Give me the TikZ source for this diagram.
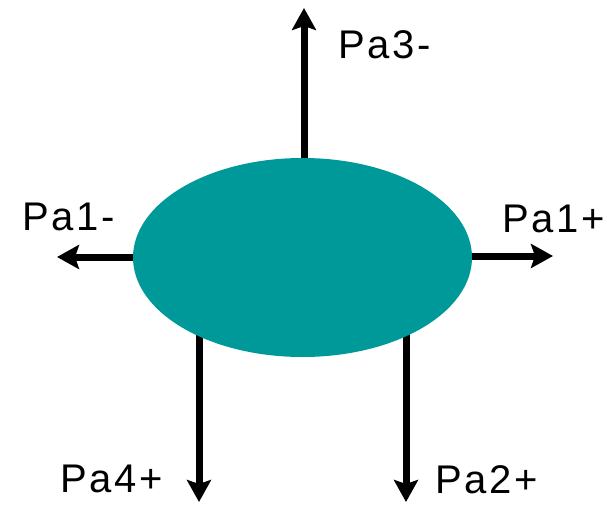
\documentclass[tikz,border=0pt]{standalone}
\usepackage{fontspec}
\setmainfont{Liberation Sans}[LetterSpace=7]
\usetikzlibrary{arrows.meta,shapes.geometric}
\definecolor{teal1}{RGB}{0,153,153}
\begin{document}
\begin{tikzpicture}[x=1pt,y=-1pt,
  arr/.style={line width=7pt,-{Stealth[length=22pt,width=24pt,inset=4pt]}},
  lbl/.style={anchor=base west,inner sep=0pt,font=\fontsize{40}{46}\selectfont}]
\useasboundingbox (0,0) rectangle (607,505);
% start points (inside ellipse) and tips
\coordinate (s3) at (304,200);
\coordinate (t3) at (304,8);
\coordinate (s1m) at (160,257);
\coordinate (t1m) at (57,257);
\coordinate (s1p) at (440,256);
\coordinate (t1p) at (553,256);
\coordinate (s4) at (199,300);
\coordinate (t4) at (199,502);
\coordinate (s2) at (406,300);
\coordinate (t2) at (406,502);
\draw[arr] (s3) -- (t3);
\draw[arr] (s1m) -- (t1m);
\draw[arr] (s1p) -- (t1p);
\draw[arr] (s4) -- (t4);
\draw[arr] (s2) -- (t2);
\node[ellipse,fill=teal1,minimum width=339pt,minimum height=199pt,inner sep=0pt] (e) at (302.5,257.5) {};
\node[lbl] (l3) at (338,59) {Pa3-};
\node[lbl] (l1m) at (22,230) {Pa1-};
\node[lbl] (l1p) at (502,232) {Pa1+};
\node[lbl] (l4) at (60,492) {Pa4+};
\node[lbl] (l2) at (435,493) {Pa2+};
\end{tikzpicture}
\end{document}
